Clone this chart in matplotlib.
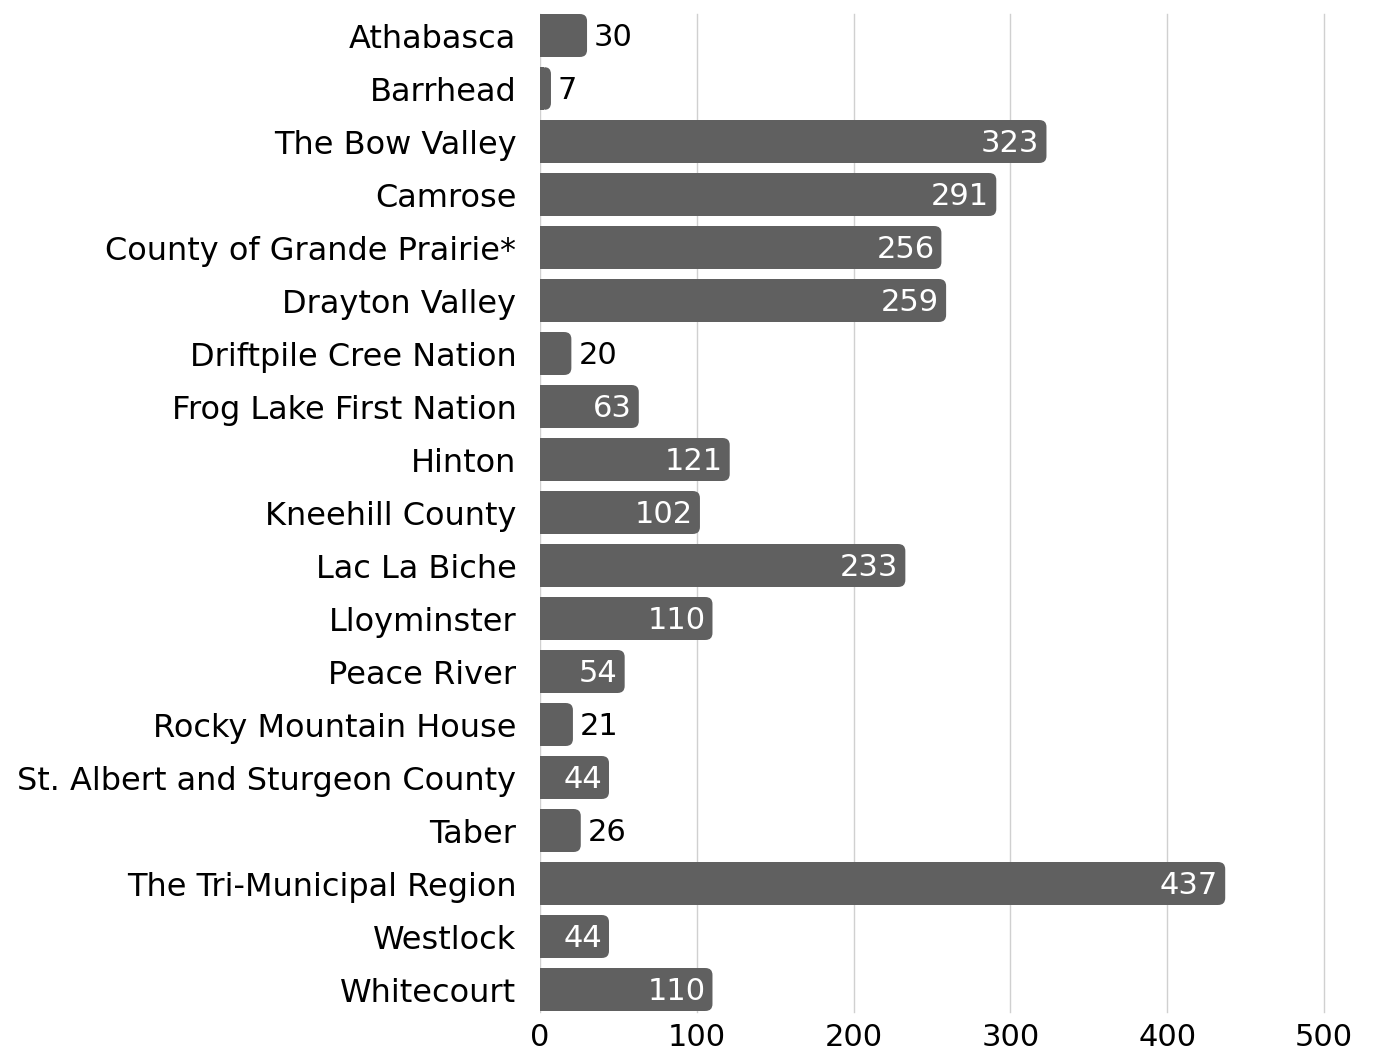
import matplotlib.pyplot as plt
from matplotlib.patches import FancyBboxPatch, Rectangle

plt.rcParams['font.family'] = ['DejaVu Sans']

regions = ['Athabasca', 'Barrhead', 'The Bow Valley', 'Camrose',
           'County of Grande Prairie*', 'Drayton Valley', 'Driftpile Cree Nation',
           'Frog Lake First Nation', 'Hinton', 'Kneehill County', 'Lac La Biche',
           'Lloyminster', 'Peace River', 'Rocky Mountain House',
           'St. Albert and Sturgeon County', 'Taber', 'The Tri-Municipal Region',
           'Westlock', 'Whitecourt']
counts = [30, 7, 323, 291, 256, 259, 20, 63, 121, 102, 233, 110, 54, 21, 44, 26, 437, 44, 110]
x_ticks = [0, 100, 200, 300, 400, 500]

bar_color = '#606060'
W, H = 1374, 1055

fig = plt.figure(figsize=(W / 100, H / 100), dpi=100)
ax = fig.add_axes([540 / W, 1 - 1016 / H, 788 / W, 1007 / H])

xmax = 788 / 1.568
ax.set_xlim(0, xmax)
ax.set_ylim(len(regions) - 0.5, -0.5)

# px -> data conversions for rounded corners
px_x = xmax / 788
px_y = len(regions) / 1007
r = 7 * px_x
h = 0.81

# gridlines (slightly shorter than the axes box)
for t in x_ticks:
    ax.axvline(t, ymin=4 / 1007, ymax=1 - 5 / 1007, color='#d0d0d0', lw=1, zorder=0)

for i, v in enumerate(counts):
    y0 = i - h / 2
    ax.add_patch(FancyBboxPatch((0, y0), v, h,
                                boxstyle=f'round,pad=0,rounding_size={r}',
                                mutation_aspect=(7 * px_y) / r,
                                fc=bar_color, ec='none', zorder=2))
    ax.add_patch(Rectangle((0, y0), max(v - r, 0), h, fc=bar_color, ec='none', zorder=2))
    if v >= 40:
        ax.text(v - 7 * px_x, i + 0.04, str(v), ha='right', va='center',
                color='white', fontsize=22, zorder=3)
    else:
        ax.text(v + 7 * px_x, i + 0.04, str(v), ha='left', va='center',
                color='black', fontsize=22, zorder=3)

ax.set_yticks(range(len(regions)))
ax.set_yticklabels(regions)
ax.set_xticks(x_ticks)
ax.tick_params(axis='y', length=0, pad=17, labelsize=23)
ax.tick_params(axis='x', length=0, pad=5, labelsize=22)
for s in ax.spines.values():
    s.set_visible(False)

plt.savefig('out.png')
